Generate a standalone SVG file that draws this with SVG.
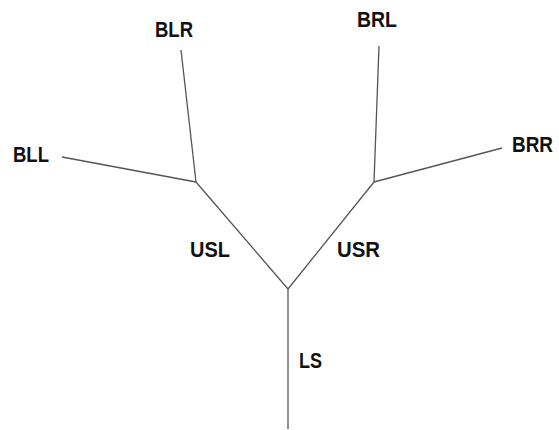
<svg xmlns="http://www.w3.org/2000/svg" width="559" height="430" viewBox="0 0 559 430">
<style>
.lbl{font-family:"Liberation Sans",Arial,sans-serif;font-weight:bold;font-size:22px;fill:#111}
.br{stroke:#555;stroke-width:1.3;fill:none}
</style>
<rect width="559" height="430" fill="#fff"/>
<g id="connectors">
<line class="br" x1="288" y1="289" x2="288" y2="429"/>
<line class="br" x1="288" y1="289" x2="196" y2="182"/>
<line class="br" x1="288" y1="289" x2="374" y2="182"/>
<line class="br" x1="196" y1="182" x2="181" y2="50"/>
<line class="br" x1="196" y1="182" x2="62" y2="157"/>
<line class="br" x1="374" y1="182" x2="379" y2="46"/>
<line class="br" x1="374" y1="182" x2="502" y2="148"/>
</g>
<g id="BLR"><text class="lbl" x="155" y="37" textLength="38" lengthAdjust="spacingAndGlyphs">BLR</text></g>
<g id="BLL"><text class="lbl" x="13" y="162" textLength="36" lengthAdjust="spacingAndGlyphs">BLL</text></g>
<g id="BRL"><text class="lbl" x="357" y="27" textLength="40" lengthAdjust="spacingAndGlyphs">BRL</text></g>
<g id="BRR"><text class="lbl" x="512" y="152" textLength="41" lengthAdjust="spacingAndGlyphs">BRR</text></g>
<g id="USL"><text class="lbl" x="190" y="257" textLength="40" lengthAdjust="spacingAndGlyphs">USL</text></g>
<g id="USR"><text class="lbl" x="337" y="257" textLength="43" lengthAdjust="spacingAndGlyphs">USR</text></g>
<g id="LS"><text class="lbl" x="299" y="368" textLength="23" lengthAdjust="spacingAndGlyphs">LS</text></g>
</svg>
